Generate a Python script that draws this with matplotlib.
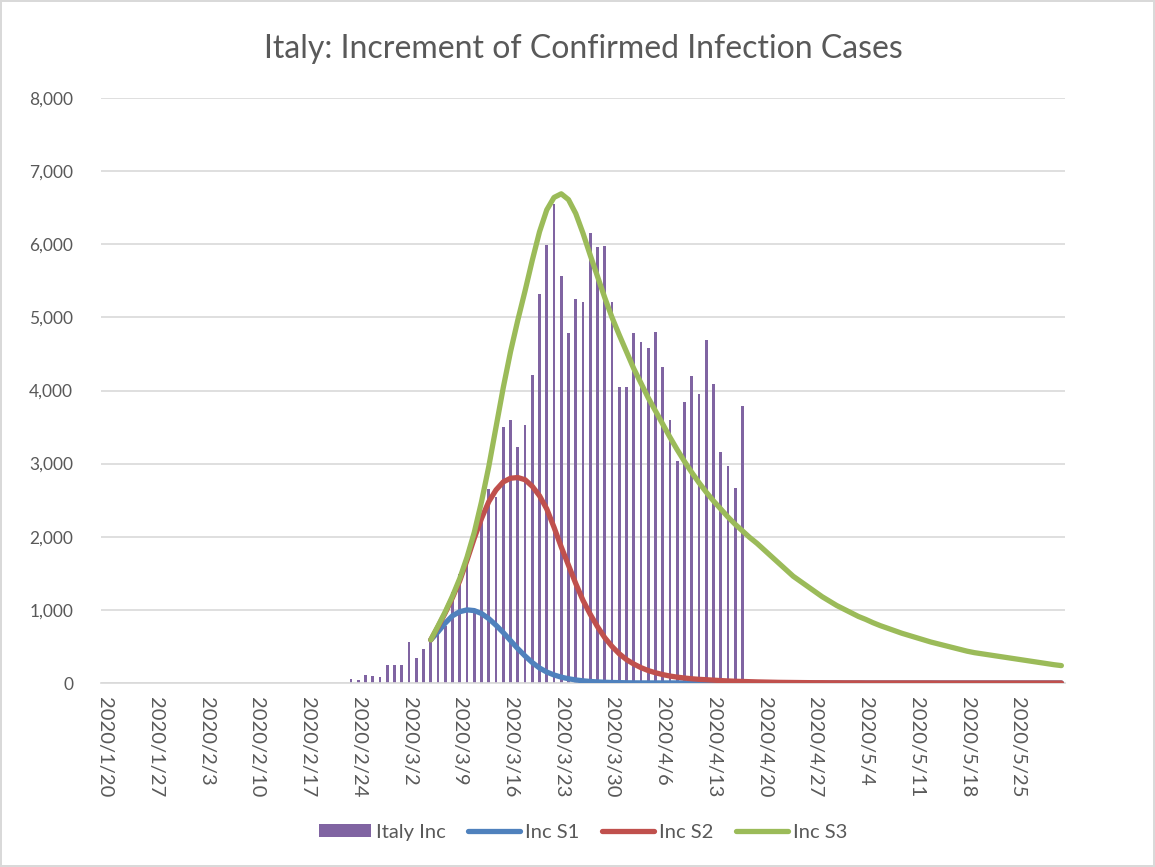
import numpy as np
import pandas as pd
import matplotlib
matplotlib.use("Agg")
import matplotlib.pyplot as plt

plt.rcParams['font.family'] = ['Lato', 'DejaVu Sans']

# categories: one per day
days = pd.date_range("2020-01-20", "2020-05-31", freq="D")

# daily increments (bars), 2020/2/23 - 2020/4/17
bar_start = "2020-02-23"
italy_inc = [59, 41, 105, 96, 78, 242, 242, 242, 566, 342, 466, 587, 769, 778,
             1247, 1492, 1797, 977, 2313, 2651, 2547, 3497, 3590, 3233, 3526,
             4207, 5322, 5986, 6557, 5560, 4789, 5249, 5210, 6153, 5959, 5974,
             5217, 4050, 4053, 4782, 4668, 4585, 4805, 4316, 3599, 3039, 3836,
             4204, 3951, 4694, 4092, 3153, 2972, 2667, 3786]

# model curves, 2020/3/5 - 2020/5/31
line_start = "2020-03-05"
inc_s1 = [590, 700, 820, 920, 975, 1000, 990, 950, 880, 790, 690, 580, 470, 370,
          280, 205, 150, 110, 80, 58, 42, 30, 21, 15, 10, 7, 5, 3, 2] + [1] * 10 + [0] * 49
inc_s2 = [590, 770, 960, 1170, 1400, 1680, 1980, 2250, 2480, 2640, 2750, 2800,
          2810, 2780, 2690, 2560, 2380, 2130, 1860, 1610, 1360, 1130, 940, 770,
          620, 500, 400, 320, 260, 210, 170, 140, 115, 95, 80, 68, 58, 50, 45,
          39, 33, 28, 24, 21, 18, 15, 13, 11, 9, 8, 7, 6, 5, 4, 4, 3, 3, 2, 2,
          2] + [1] * 10 + [0] * 18
inc_s3 = [590, 780, 975, 1190, 1430, 1720, 2060, 2480, 2960, 3500, 4040, 4530,
          4960, 5360, 5780, 6170, 6470, 6640, 6690, 6610, 6420, 6150, 5850, 5560,
          5270, 5000, 4760, 4530, 4300, 4100, 3900, 3720, 3540, 3360, 3190, 3030,
          2880, 2740, 2610, 2490, 2380, 2270, 2170, 2080, 1990, 1910, 1820, 1730,
          1640, 1550, 1460, 1390, 1320, 1250, 1180, 1120, 1060, 1010, 960, 910,
          870, 825, 785, 750, 715, 680, 650, 620, 590, 560, 535, 510, 485, 460,
          435, 415, 400, 385, 370, 355, 340, 325, 310, 295, 280, 265, 250, 238]

b0 = days.get_loc(pd.Timestamp(bar_start))
l0 = days.get_loc(pd.Timestamp(line_start))
xb = np.arange(b0, b0 + len(italy_inc))
xl = np.arange(l0, l0 + len(inc_s3))

fig = plt.figure(figsize=(11.55, 8.67), dpi=100)
fig.patch.set_edgecolor('#D9D9D9')
fig.patch.set_linewidth(1.5)
ax = fig.add_axes([101 / 1155, 1 - 683 / 867, 964 / 1155, 585 / 867])

bars = ax.bar(xb, italy_inc, width=0.38, color='#8064A2', label='Italy Inc', zorder=2)
l1, = ax.plot(xl, inc_s1[:len(xl)], color='#4F81BD', lw=3.8, label='Inc S1',
              zorder=3, solid_capstyle='round')
l2, = ax.plot(xl, inc_s2[:len(xl)], color='#C0504D', lw=3.8, label='Inc S2',
              zorder=4, solid_capstyle='round')
l3, = ax.plot(xl, inc_s3, color='#9BBB59', lw=3.8, label='Inc S3', zorder=5,
              solid_capstyle='round')

ax.set_xlim(-0.5, len(days) - 0.5)
ax.set_ylim(0, 8000)
ax.set_yticks(np.arange(0, 8001, 1000))
ax.set_yticklabels([f"{v:,}" for v in range(0, 8001, 1000)])
ticks = np.arange(0, len(days), 7)
ax.set_xticks(ticks)
ax.set_xticklabels([f"{d.year}/{d.month}/{d.day}" for d in days[ticks]],
                   rotation=-90, va='top', ha='center')
ax.grid(axis='y', color='#D9D9D9', lw=1.2, zorder=0)
ax.set_axisbelow(True)
for s in ['top', 'right', 'left']:
    ax.spines[s].set_visible(False)
ax.spines['bottom'].set_color('#D9D9D9')
ax.spines['bottom'].set_linewidth(1.2)
ax.tick_params(axis='both', length=0, colors='#595959')
ax.tick_params(axis='x', pad=10, labelsize=14.5)
ax.tick_params(axis='y', pad=20, labelsize=12.5)

ax.set_title("Italy: Increment of Confirmed Infection Cases", fontsize=23,
             color='#595959', pad=29)

ax.legend([bars, l1, l2, l3], ['Italy Inc', 'Inc S1', 'Inc S2', 'Inc S3'],
          loc='center', bbox_to_anchor=(0.5, -0.255), ncol=4, frameon=False,
          fontsize=14.5, labelcolor='#595959', handlelength=2.6,
          handleheight=0.6, handletextpad=0.25, columnspacing=1.1)

fig.savefig("out.png", dpi=100, edgecolor=fig.get_edgecolor())
